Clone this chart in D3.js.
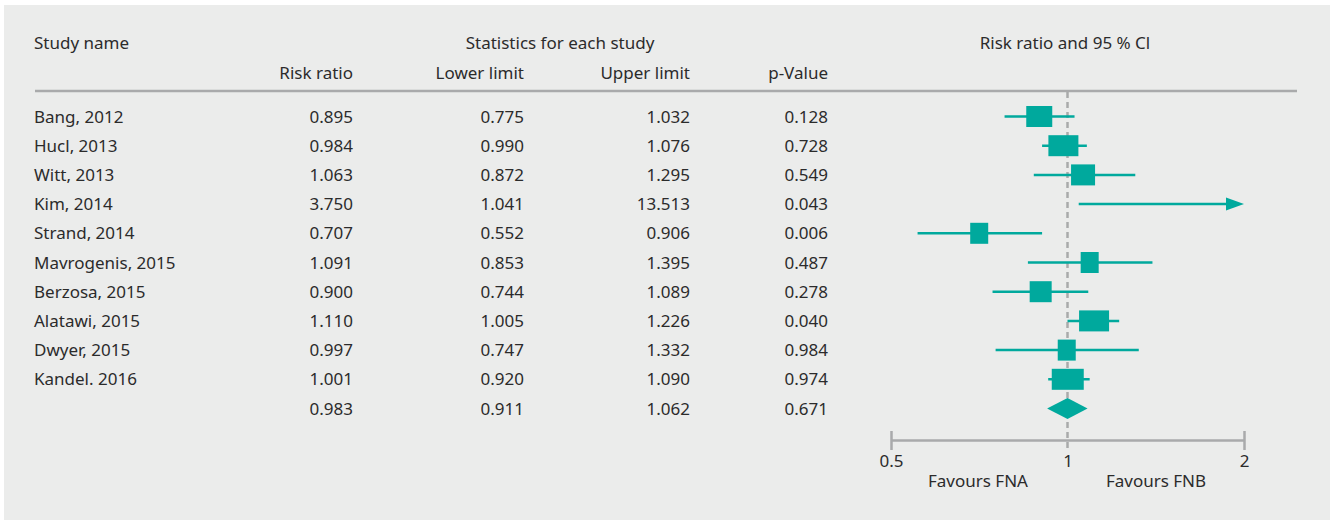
<!DOCTYPE html>
<html>
<head>
<meta charset="utf-8">
<script src="https://cdn.jsdelivr.net/npm/d3@7"></script>
<style>
	body { margin: 0; background: #ffffff; }
	svg text { font-family: "Noto Sans", sans-serif; fill: #2b2b2b; }
</style>
</head>
<body>
<svg id="svg-container"></svg>
<script>

// table columns, as printed
var studies = ['Bang, 2012', 'Hucl, 2013', 'Witt, 2013', 'Kim, 2014', 'Strand, 2014', 'Mavrogenis, 2015', 'Berzosa, 2015', 'Alatawi, 2015', 'Dwyer, 2015', 'Kandel. 2016', ''];
var riskRatio  = ['0.895', '0.984', '1.063', '3.750', '0.707', '1.091', '0.900', '1.110', '0.997', '1.001', '0.983'];
var lowerLimit = ['0.775', '0.990', '0.872', '1.041', '0.552', '0.853', '0.744', '1.005', '0.747', '0.920', '0.911'];
var upperLimit = ['1.032', '1.076', '1.295', '13.513', '0.906', '1.395', '1.089', '1.226', '1.332', '1.090', '1.062'];
var pValue     = ['0.128', '0.728', '0.549', '0.043', '0.006', '0.487', '0.278', '0.040', '0.984', '0.974', '0.671'];

// values as drawn in the forest plot
var plotRR    = [0.895, 0.984, 1.063, 3.750, 0.707, 1.091, 0.900, 1.110, 0.997, 1.001];
var plotLower = [0.781, 0.905, 0.876, 1.045, 0.555, 0.856, 0.745, 1.000, 0.754, 0.927];
var plotUpper = [1.028, 1.079, 1.305, 13.513, 0.905, 1.396, 1.085, 1.225, 1.323, 1.091];
var weights   = [13, 15, 12, 2, 9, 9, 11, 15, 9, 16];
var pooled    = [0.923, 1.0, 1.082];

var axisTicks = [0.5, 1, 2];
var favours = ['Favours FNA', 'Favours FNB'];

var pageWidth = 1330;
var pageHeight = 520;
var teal = '#00a99d';
var grey = '#a9aaab';
var fontSize = 17;

var svg = d3.select('#svg-container')
	.attr('width', pageWidth)
	.attr('height', pageHeight);

svg.append('rect')
	.attr('x', 4)
	.attr('y', 5)
	.attr('width', pageWidth - 4)
	.attr('height', pageHeight - 5)
	.attr('fill', '#ebeceb');

var xScale = d3.scaleLog()
	.domain([0.5, 2])
	.range([891, 1244]);

var yScale = d3.scaleLinear()
	.domain([0, 10])
	.range([116.5, 408.5]);

var wScale = d3.scaleLinear()
	.domain([0, 16])
	.range([0, 32]);

// headers
writeText(svg, 'Study name', 34, 48.5, 'start');
writeText(svg, 'Statistics for each study', 560, 48.5, 'middle');
writeText(svg, 'Risk ratio and 95 % Cl', 1065, 48.5, 'middle');

var colRight = [353, 524, 690, 828];
var colNames = ['Risk ratio', 'Lower limit', 'Upper limit', 'p-Value'];
var colData = [riskRatio, lowerLimit, upperLimit, pValue];

colNames.forEach(function(d, i){
	writeText(svg, d, colRight[i], 78.5, 'end');
});

svg.append('line')
	.attr('x1', 35)
	.attr('x2', 1297)
	.attr('y1', 91)
	.attr('y2', 91)
	.attr('stroke', grey)
	.attr('stroke-width', 2.5);

// table body
var rows = svg.append('g').attr('class', 'rows');

rows.selectAll('.study')
	.data(studies)
	.enter()
	.append('text')
	.attr('class', 'study')
	.attr('x', 34)
	.attr('y', function(d, i){ return yScale(i) + 6 })
	.style('font-size', fontSize + 'px')
	.text(function(d){ return d });

colData.forEach(function(col, c){
	rows.selectAll('.col' + c)
		.data(col)
		.enter()
		.append('text')
		.attr('class', 'col' + c)
		.attr('x', colRight[c])
		.attr('y', function(d, i){ return yScale(i) + 6 })
		.attr('text-anchor', 'end')
		.style('font-size', fontSize + 'px')
		.text(function(d){ return d });
});

// reference line at 1
svg.append('line')
	.attr('x1', xScale(1))
	.attr('x2', xScale(1))
	.attr('y1', 92)
	.attr('y2', 448)
	.attr('stroke', grey)
	.attr('stroke-width', 2.5)
	.attr('stroke-dasharray', '6,4');

// bottom axis
var axis = svg.append('g')
	.attr('class', 'x-axis')
	.attr('transform', 'translate(0, 440)')
	.call(d3.axisBottom(xScale).tickValues(axisTicks).tickSize(10).tickSizeOuter(0).tickFormat(d3.format('')));

axis.select('.domain')
	.attr('stroke', grey)
	.attr('stroke-width', 2.5);

axis.selectAll('.tick line')
	.attr('y1', -9)
	.attr('y2', 10)
	.attr('stroke', grey)
	.attr('stroke-width', 2.5)
	.attr('visibility', function(d){ return d === 1 ? 'hidden' : 'visible' });

axis.selectAll('.tick text')
	.attr('y', 27)
	.attr('dy', 0)
	.style('font-size', fontSize + 'px')
	.style('font-family', '"Noto Sans", sans-serif')
	.attr('fill', '#2b2b2b');

writeText(svg, favours[0], 978, 486.5, 'middle');
writeText(svg, favours[1], 1156, 486.5, 'middle');

// confidence intervals
var plot = svg.append('g').attr('class', 'forest');
var xMax = xScale.domain()[1];

plot.selectAll('.ci')
	.data(plotRR)
	.enter()
	.append('line')
	.attr('class', 'ci')
	.attr('x1', function(d, i){ return xScale(plotLower[i]) })
	.attr('x2', function(d, i){ return plotUpper[i] > xMax ? xScale(xMax) - 16 : xScale(plotUpper[i]) })
	.attr('y1', function(d, i){ return yScale(i) })
	.attr('y2', function(d, i){ return yScale(i) })
	.attr('stroke', teal)
	.attr('stroke-width', 2.5);

// arrows for intervals running off the scale
plot.selectAll('.arrow')
	.data(plotRR.map(function(d, i){ return i }).filter(function(i){ return plotUpper[i] > xMax }))
	.enter()
	.append('path')
	.attr('class', 'arrow')
	.attr('d', function(i){
		var tip = xScale(xMax), y = yScale(i);
		return 'M' + tip + ',' + y + 'L' + (tip - 18) + ',' + (y - 6.5) + 'L' + (tip - 18) + ',' + (y + 6.5) + 'Z';
	})
	.attr('fill', teal);

plot.selectAll('.box')
	.data(plotRR.map(function(d, i){ return i }).filter(function(i){ return plotRR[i] <= xMax }))
	.enter()
	.append('rect')
	.attr('class', 'box')
	.attr('x', function(i){ return xScale(plotRR[i]) - wScale(weights[i]) / 2 })
	.attr('y', function(i){ return yScale(i) - 10.5 })
	.attr('width', function(i){ return wScale(weights[i]) })
	.attr('height', 21)
	.attr('fill', teal);

// pooled estimate
var yp = yScale(10);
plot.append('path')
	.attr('d', 'M' + xScale(pooled[0]) + ',' + yp +
		'L' + xScale(pooled[1]) + ',' + (yp - 10.5) +
		'L' + xScale(pooled[2]) + ',' + yp +
		'L' + xScale(pooled[1]) + ',' + (yp + 10.5) + 'Z')
	.attr('fill', teal);

function writeText(target, txt, x, y, anchor) {
	return target.append('text')
		.attr('x', x)
		.attr('y', y)
		.attr('text-anchor', anchor)
		.style('font-size', fontSize + 'px')
		.text(txt);
}

</script>
</body>
</html>
